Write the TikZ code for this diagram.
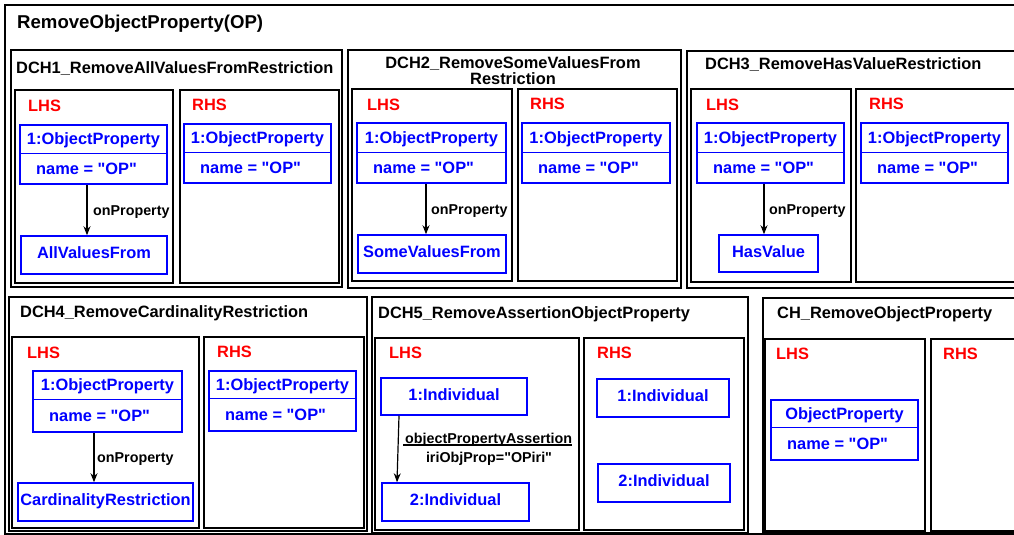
\documentclass[tikz,border=0pt]{standalone}
\usepackage{fontspec}
\setmainfont{Liberation Sans}[Ligatures=TeXOff]
\usetikzlibrary{arrows.meta}
\definecolor{bl}{RGB}{0,0,255}
\definecolor{rd}{RGB}{255,0,0}
\newcommand\fA{\fontsize{16.4}{16.4}\selectfont\bfseries}
\newcommand\fB{\fontsize{14.3}{14.3}\selectfont\bfseries}
\newcommand\fC{\fontsize{18.6}{18.6}\selectfont\bfseries}
\newcommand\dq{\char34\relax}
% rectangle node from corners: style, name, x1, y1, x2, y2
\newcommand\bx[6]{\node[#1, minimum width={#5-#3}, minimum height={#6-#4}] (#2) at ({(#3+#5)/2},{(#4+#6)/2}) {};}
% object box: name, x1, y1, x2, y2, divider, title
\newcommand\opbox[7]{%
  \bx{cls}{#1}{#2}{#3}{#4}{#5}
  \draw[bl, line width=1pt] (#2,#6) -- (#4,#6);
  \node[btx] (#1t) at ({(#2+#4)/2},{(#3+#6)/2}) {#7};
  \node[btx, anchor=west] (#1n) at ({#2+16},{(#6+#5)/2}) {name = \dq OP\dq};}
% simple box: name, x1, y1, x2, y2, text
\newcommand\simplebox[6]{%
  \bx{cls}{#1}{#2}{#3}{#4}{#5}
  \node[btx] (#1t) at ({(#2+#4)/2},{(#3+#5)/2-2}) {#6};}
\begin{document}
\begin{tikzpicture}[x=1pt,y=-1pt,
  panel/.style={draw=black, line width=1.8pt, inner sep=0},
  cls/.style={draw=bl, line width=1.5pt, inner sep=0},
  tx/.style={inner sep=0, text height=11.7pt, text depth=0pt, font=\fA},
  btx/.style={tx, text=bl},
  rtx/.style={tx, text=rd, anchor=west},
  ttx/.style={tx, anchor=west},
  stx/.style={inner sep=0, text height=10.2pt, text depth=0pt, font=\fB},
  arr/.style={-{Stealth[length=9pt,width=7pt]}, line width=1.2pt, black}]
\useasboundingbox (0,0) rectangle (1014,535);
\fill[white] (0,0) rectangle (1014,535);

% outer frame
\bx{panel}{outer}{5}{5}{1025}{534}
\node[inner sep=0, text height=13.3pt, text depth=0pt, font=\fC, anchor=west] (title) at (17,22) {RemoveObjectProperty(OP)};

% ---------- DCH1 ----------
\bx{panel}{p1}{11}{50}{342}{287}
\bx{panel}{p1l}{15}{90}{173}{283}
\bx{panel}{p1r}{180}{90}{339}{283}
\node[ttx] (t1) at (16,68) {DCH1\_RemoveAllValuesFromRestriction};
\node[rtx] (l1) at (28,106) {LHS};
\node[rtx] (r1) at (192,105) {RHS};
\opbox{o1}{20}{125}{167}{184}{153}{1:ObjectProperty}
\opbox{o1r}{184}{124}{331}{183}{152}{1:ObjectProperty}
\simplebox{a1}{21}{236}{167}{274}{AllValuesFrom}
\draw[arr] (o1.south -| 87,0) -- (a1.north -| 87,0);
\node[stx, anchor=west] (e1) at (93,210) {onProperty};

% ---------- DCH2 ----------
\bx{panel}{p2}{348}{50}{681}{288}
\bx{panel}{p2l}{352}{89}{512}{281}
\bx{panel}{p2r}{518}{89}{677}{281}
\node[tx] (t2a) at (513,63) {DCH2\_RemoveSomeValuesFrom};
\node[tx] (t2b) at (513,79) {Restriction};
\node[rtx] (l2) at (367,105) {LHS};
\node[rtx] (r2) at (530,104) {RHS};
\opbox{o2}{357}{123}{506}{183}{152}{1:ObjectProperty}
\opbox{o2r}{522}{123}{670}{183}{152}{1:ObjectProperty}
\simplebox{a2}{358}{235}{506}{273}{SomeValuesFrom}
\draw[arr] (o2.south -| 426,0) -- (a2.north -| 426,0);
\node[stx, anchor=west] (e2) at (431,209) {onProperty};

% ---------- DCH3 ----------
\bx{panel}{p3}{687}{51}{1025}{288}
\bx{panel}{p3l}{691}{89}{851}{282}
\bx{panel}{p3r}{856}{89}{1025}{282}
\node[ttx] (t3) at (705,64) {DCH3\_RemoveHasValueRestriction};
\node[rtx] (l3) at (706,105) {LHS};
\node[rtx] (r3) at (869,104) {RHS};
\opbox{o3}{697}{123}{844}{183}{152}{1:ObjectProperty}
\opbox{o3r}{861}{123}{1008}{183}{152}{1:ObjectProperty}
\simplebox{a3}{719}{235}{818}{272}{HasValue}
\draw[arr] (o3.south -| 764,0) -- (a3.north -| 764,0);
\node[stx, anchor=west] (e3) at (769,209) {onProperty};

% ---------- DCH4 ----------
\bx{panel}{p4}{9}{297}{367}{531}
\bx{panel}{p4l}{12}{337}{199}{528}
\bx{panel}{p4r}{204}{337}{364}{528}
\node[ttx] (t4) at (20,312) {DCH4\_RemoveCardinalityRestriction};
\node[rtx] (l4) at (27,353) {LHS};
\node[rtx] (r4) at (217,352) {RHS};
\opbox{o4}{33}{371}{182}{432}{399}{1:ObjectProperty}
\opbox{o4r}{209}{371}{356}{431}{398}{1:ObjectProperty}
\simplebox{a4}{18}{483}{193}{521}{CardinalityRestriction}
\draw[arr] (o4.south -| 94,0) -- (a4.north -| 94,0);
\node[stx, anchor=west] (e4) at (97,457) {onProperty};

% ---------- DCH5 ----------
\bx{panel}{p5}{372}{297}{748}{533}
\bx{panel}{p5l}{375}{338}{579}{530}
\bx{panel}{p5r}{584}{338}{744}{530}
\node[ttx] (t5) at (378,313) {DCH5\_RemoveAssertionObjectProperty};
\node[rtx] (l5) at (389,353) {LHS};
\node[rtx] (r5) at (597,353) {RHS};
\simplebox{i1}{381}{378}{527}{415}{1:Individual}
\simplebox{i2}{382}{483}{529}{521}{2:Individual}
\simplebox{i1r}{597}{379}{729}{417}{1:Individual}
\simplebox{i2r}{598}{464}{730}{502}{2:Individual}
\draw[arr] (i1.south -| 399,0) -- (i2.north -| 397,0);
\node[stx, anchor=west] (e5) at (405,438) {objectPropertyAssertion};
\draw[line width=1.8pt] ([xshift=-2pt,yshift=-1.5pt]e5.south west) -- ([yshift=-1.5pt]e5.south east);
\node[stx] (e5b) at (489,457) {iriObjProp=\dq OPiri\dq};

% ---------- CH ----------
\bx{panel}{p6}{763}{298}{1025}{533}
\bx{panel}{p6l}{765}{339}{925}{531}
\bx{panel}{p6r}{931}{339}{1025}{531}
\node[ttx] (t6) at (777,313) {CH\_RemoveObjectProperty};
\node[rtx] (l6) at (776,354) {LHS};
\node[rtx] (r6) at (943,354) {RHS};
\opbox{o6}{771}{400}{918}{460}{427}{ObjectProperty}
\end{tikzpicture}
\end{document}
